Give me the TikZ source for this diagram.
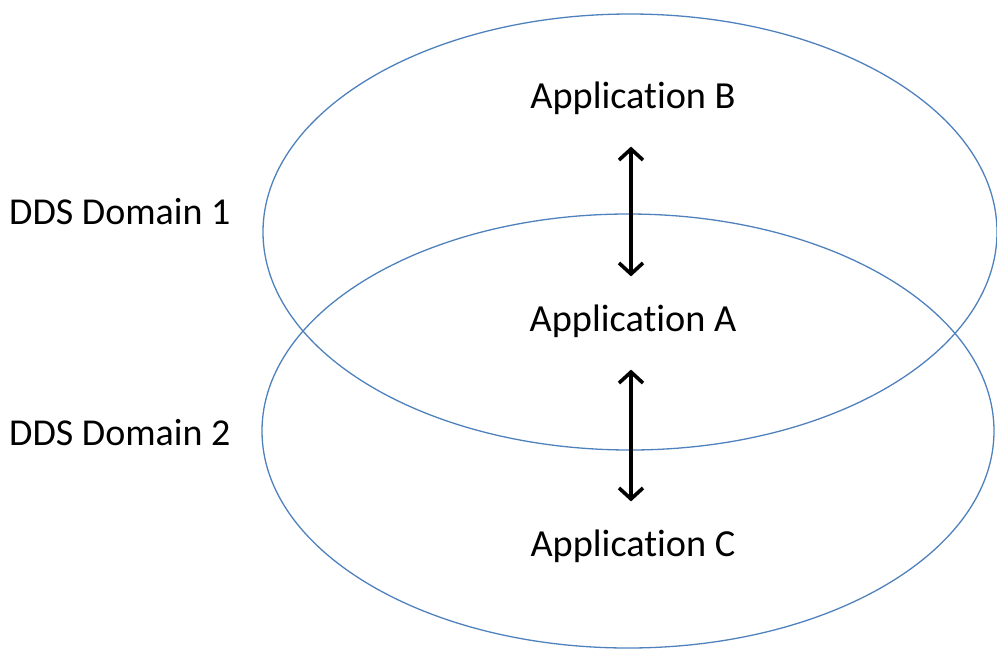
\documentclass[tikz,border=0pt]{standalone}
\usepackage{fontspec}
\setmainfont[Ligatures=NoCommon]{Carlito}
\usetikzlibrary{arrows.meta,positioning}
\definecolor{domainblue}{RGB}{79,129,189}
\tikzstyle{app}    = [text=black, inner sep=0pt, font=\fontsize{38.3}{46}\selectfont]
\tikzstyle{domlbl} = [text=black, inner sep=0pt, anchor=west, font=\fontsize{38}{46}\selectfont]
\tikzstyle{domring} = [draw=domainblue, line width=1.3pt]
\tikzstyle{link}   = [black, line width=3.8pt, {Straight Barb[length=11pt,width=24pt,line width=3.6pt]}-{Straight Barb[length=11pt,width=24pt,line width=3.6pt]}]

\begin{document}
\begin{tikzpicture}[x=1pt, y=-1pt, node distance=223pt]
      \useasboundingbox (0,0) rectangle (997,649);
      \draw[domring] (630,232) ellipse [x radius=367, y radius=218];
      \draw[domring] (628,431) ellipse [x radius=366, y radius=217];
      \node[app] (appA) at (633,321) {Application A};
      \node[app, above of=appA] (appB) {Application B};
      \node[app, below of=appA, yshift=-2pt] (appC) {Application C};
      \node[domlbl] (dom1) at (9,212) {DDS Domain 1};
      \node[domlbl] (dom2) at (9,433) {DDS Domain 2};
      \draw[link, shorten <=32pt, shorten >=28pt] ([xshift=-2pt]appB.south) -- ([xshift=-2pt]appA.north);
      \draw[link, shorten <=32pt, shorten >=28pt] ([xshift=-2pt]appA.south) -- ([xshift=-2pt]appC.north);
    \end{tikzpicture}
\end{document}
